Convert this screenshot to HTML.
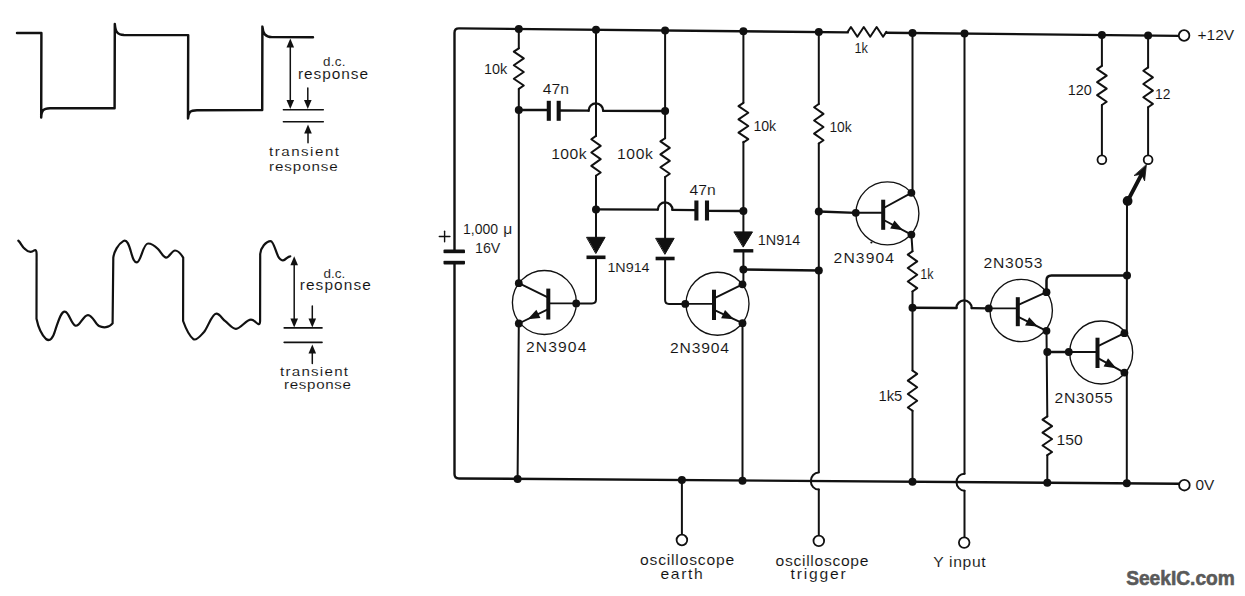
<!DOCTYPE html>
<html><head><meta charset="utf-8"><style>
html,body{margin:0;padding:0;background:#fff;}
svg{display:block;}
text{font-family:"Liberation Sans",sans-serif;}
</style></head><body>
<svg width="1245" height="596" viewBox="0 0 1245 596">
<rect width="1245" height="596" fill="#fff"/>
<g stroke="#111" fill="none" stroke-linecap="round" stroke-linejoin="round">
<path d="M17,33 L41.4,33 L41.2,117.5 C41.5,110.5 43,108.6 50,108.3 L114.6,108.2 L114.8,24 C115.5,31.5 117,34.8 124,35 L188.2,35.1 L188,118.5 C188.4,112 190,110.4 197,110.3 L262.2,110.1 L262.4,26.6 C263,33.5 265,36.9 272,37.1 L313,37.2" stroke-width="2.45" fill="none"/>
<line x1="290.3" y1="44" x2="290.3" y2="103" stroke-width="1.5"/>
<polygon points="290.3,38.5 294.1,47.5 286.5,47.5" fill="#111" stroke="none"/>
<polygon points="290.3,109 286.5,100 294.1,100" fill="#111" stroke="none"/>
<line x1="307.8" y1="88" x2="307.8" y2="103" stroke-width="1.5"/>
<polygon points="307.8,109 304,100 311.6,100" fill="#111" stroke="none"/>
<line x1="283.4" y1="109.8" x2="323.3" y2="109.8" stroke-width="1.6"/>
<line x1="283.4" y1="121.8" x2="323.3" y2="121.8" stroke-width="1.6"/>
<polygon points="308,124.5 311.8,133.5 304.2,133.5" fill="#111" stroke="none"/>
<line x1="308" y1="131" x2="308" y2="142.8" stroke-width="1.5"/>
<text transform="translate(323,66.4) scale(1.12,1)" font-size="12" font-weight="normal" fill="#111" stroke="#fff" stroke-width="0.08" text-anchor="start" textLength="20.09" lengthAdjust="spacing">d.c.</text>
<text transform="translate(297.9,78.8) scale(1.12,1)" font-size="13.8" font-weight="normal" fill="#111" stroke="#fff" stroke-width="0.08" text-anchor="start" textLength="62.68" lengthAdjust="spacing">response</text>
<text transform="translate(269,156.4) scale(1.12,1)" font-size="13.5" font-weight="normal" fill="#111" stroke="#fff" stroke-width="0.08" text-anchor="start" textLength="62.5" lengthAdjust="spacing">transient</text>
<text transform="translate(269,170.7) scale(1.12,1)" font-size="13.5" font-weight="normal" fill="#111" stroke="#fff" stroke-width="0.08" text-anchor="start" textLength="61.34" lengthAdjust="spacing">response</text>
<path d="M18.3,240.7 C21,243 22,247 25,249 C28,252 31,253 34,250.5 C36,249.5 36.6,251 36.6,254 L36.5,318.7 C38,326 42,335 46,339 C50,342 53,338 55,331 C58,322 61,311 65,311.6 C69,312 71,324 75.5,325.7 C80,327 83,315 88,315.1 C93,315.3 95,324 99,326 C103,328 109,328 112.6,323.4 L113.3,257.6 C114,252 118,244 123.3,241.1 C127,239 129,245 131,252 C133,259 134,262.5 137,262.3 C141,262 143,243.5 148,243.5 C152,243.5 155,246 158,249 C161,252 163,257 166,257.6 C169,258 172,250.5 175,250.5 C178,250.5 181,254 183.2,257.6 L183.1,321 C186,329 189,336 193.6,339.3 C197,341 201,335 204.2,331.8 C208,327 212,313.7 216.3,313.7 C220,313.7 222,319 225.3,321.2 C229,324 232,329 236,328.8 C241,328.5 246,319.7 251,319.7 C254,319.7 256,323 258.5,324.2 C259.5,324.5 260,323 260.1,321 L260.2,254 C260.5,248 266,241.1 270.6,241.1 C274,241.1 276,254 279,257.8 C281,260.5 283,261 285,259.5 C287,258 288.5,256.3 290.3,256.3" stroke-width="2.2" fill="none"/>
<line x1="294.2" y1="262" x2="294.2" y2="321" stroke-width="1.5"/>
<polygon points="294.2,256.3 298,265.3 290.4,265.3" fill="#111" stroke="none"/>
<polygon points="294.2,327.5 290.4,318.5 298,318.5" fill="#111" stroke="none"/>
<line x1="312.3" y1="306" x2="312.3" y2="321" stroke-width="1.5"/>
<polygon points="312.3,327.5 308.5,318.5 316.1,318.5" fill="#111" stroke="none"/>
<line x1="284.2" y1="327.9" x2="322" y2="327.9" stroke-width="1.6"/>
<line x1="284.2" y1="342.4" x2="322" y2="342.4" stroke-width="1.6"/>
<polygon points="312.3,344.5 316.1,353.5 308.5,353.5" fill="#111" stroke="none"/>
<line x1="312.3" y1="350" x2="312.3" y2="363.5" stroke-width="1.5"/>
<text transform="translate(323.4,278.2) scale(1.12,1)" font-size="12" font-weight="normal" fill="#111" stroke="#fff" stroke-width="0.08" text-anchor="start" textLength="19.46" lengthAdjust="spacing">d.c.</text>
<text transform="translate(299.7,290.3) scale(1.12,1)" font-size="13.8" font-weight="normal" fill="#111" stroke="#fff" stroke-width="0.08" text-anchor="start" textLength="63.48" lengthAdjust="spacing">response</text>
<text transform="translate(280,376) scale(1.12,1)" font-size="13.5" font-weight="normal" fill="#111" stroke="#fff" stroke-width="0.08" text-anchor="start" textLength="60.71" lengthAdjust="spacing">transient</text>
<text transform="translate(284,389) scale(1.12,1)" font-size="13.5" font-weight="normal" fill="#111" stroke="#fff" stroke-width="0.08" text-anchor="start" textLength="59.82" lengthAdjust="spacing">response</text>
<path d="M454.5,250.5 L454.5,32.8 Q454.5,28.3 459,28.34 L847.7,32.38" stroke-width="2.4" fill="none"/>
<polyline points="847.7,31.9 850.92,27.05 857.35,36.75 863.78,27.05 870.22,36.75 876.65,27.05 883.08,36.75 886.3,31.9" stroke-width="2.0"/>
<text transform="translate(854.4,52.6) scale(0.91,1)" font-size="14" font-weight="normal" fill="#111" stroke="#fff" stroke-width="0.08" text-anchor="start">1k</text>
<line x1="886.3" y1="32.79" x2="1178.8" y2="35.83" stroke-width="2.4"/>
<path d="M454.5,262.5 L454.5,473.9 Q454.5,478.4 459,478.44 L1179,483.69" stroke-width="2.4" fill="none"/>
<circle cx="1184.1" cy="35.5" r="5.3" fill="#fff" stroke-width="1.8"/>
<circle cx="1184.4" cy="485.2" r="5.3" fill="#fff" stroke-width="1.8"/>
<text transform="translate(1197.5,40.3) scale(1.11,1)" font-size="14" font-weight="normal" fill="#111" stroke="#fff" stroke-width="0.08" text-anchor="start">+12V</text>
<text transform="translate(1195.4,490) scale(1.1,1)" font-size="14" font-weight="normal" fill="#111" stroke="#fff" stroke-width="0.08" text-anchor="start">0V</text>
<rect x="443.5" y="249.4" width="21.5" height="4" rx="1" fill="#111" stroke="none"/>
<rect x="443.5" y="260.6" width="21.5" height="4" rx="1" fill="#111" stroke="none"/>
<rect x="443" y="253.4" width="22" height="7.2" fill="#fff" stroke="none"/>
<line x1="439.3" y1="236.5" x2="449.9" y2="236.5" stroke-width="1.4"/>
<line x1="444.6" y1="231.2" x2="444.6" y2="241.8" stroke-width="1.4"/>
<text transform="translate(463,234.4) scale(1,1)" font-size="14" font-weight="normal" fill="#111" stroke="#fff" stroke-width="0.08" text-anchor="start">1,000</text>
<text transform="translate(503.2,234.4) scale(1.12,1)" font-size="14" font-weight="normal" fill="#111" stroke="#fff" stroke-width="0.08" text-anchor="start" textLength="8.48" lengthAdjust="spacing">μ</text>
<text transform="translate(475,253) scale(1.02,1)" font-size="14" font-weight="normal" fill="#111" stroke="#fff" stroke-width="0.08" text-anchor="start">16V</text>
<circle cx="518.8" cy="28.96" r="4.0" fill="#111" stroke="none"/>
<line x1="518.8" y1="28.96" x2="518.8" y2="48.3" stroke-width="2.0"/>
<polyline points="518.8,48.3 513.8,51.68 523.8,58.45 513.8,65.22 523.8,71.98 513.8,78.75 523.8,85.52 518.8,88.9" stroke-width="2.0"/>
<line x1="518.8" y1="88.9" x2="518.8" y2="283.2" stroke-width="2.0"/>
<circle cx="518.8" cy="110" r="4.0" fill="#111" stroke="none"/>
<text transform="translate(484,73.9) scale(1.03,1)" font-size="14" font-weight="normal" fill="#111" stroke="#fff" stroke-width="0.08" text-anchor="start">10k</text>
<line x1="518.8" y1="323.5" x2="517.6" y2="478.86" stroke-width="2.0"/>
<circle cx="517.6" cy="479.06" r="4.0" fill="#111" stroke="none"/>
<line x1="518.8" y1="110" x2="548.7" y2="110" stroke-width="2.35"/>
<rect x="546.75" y="100.8" width="4.1" height="20" fill="#111" stroke="none"/>
<rect x="556.65" y="100.8" width="4.1" height="20" fill="#111" stroke="none"/>
<text transform="translate(542.8,93.6) scale(1.12,1)" font-size="14" font-weight="normal" fill="#111" stroke="#fff" stroke-width="0.08" text-anchor="start" textLength="23.48" lengthAdjust="spacing">47n</text>
<line x1="558.8" y1="110.5" x2="588.6" y2="110.7" stroke-width="2.35"/>
<path d="M588.6,110.7 A7.3,7.3 0 0 1 603.2,110.8" stroke-width="2.3" fill="none"/>
<line x1="603.2" y1="110.8" x2="665.1" y2="111" stroke-width="2.35"/>
<circle cx="596" cy="29.77" r="4.0" fill="#111" stroke="none"/>
<line x1="596" y1="29.77" x2="596" y2="135.9" stroke-width="2.0"/>
<polyline points="596,135.9 591.3,139.22 600.7,145.88 591.3,152.53 600.7,159.18 591.3,165.83 600.7,172.48 596,175.8" stroke-width="2.0"/>
<line x1="596" y1="175.8" x2="596" y2="237" stroke-width="2.0"/>
<circle cx="596" cy="209.4" r="4.0" fill="#111" stroke="none"/>
<text transform="translate(551.2,159.4) scale(1.12,1)" font-size="14" font-weight="normal" fill="#111" stroke="#fff" stroke-width="0.08" text-anchor="start" textLength="31.52" lengthAdjust="spacing">100k</text>
<polygon points="586.9,237.3 605.1,237.3 596,253.2" fill="#111" stroke-width="1"/>
<rect x="586.5" y="255.5" width="19" height="3.6" fill="#111" stroke="none"/>
<text transform="translate(607.4,272) scale(1.06,1)" font-size="13.5" font-weight="normal" fill="#111" stroke="#fff" stroke-width="0.08" text-anchor="start">1N914</text>
<path d="M596,257 L596,299.5 Q596,303.4 592,303.4 L576.2,303.4" stroke-width="2.0" fill="none"/>
<circle cx="665.1" cy="30.49" r="4.0" fill="#111" stroke="none"/>
<line x1="665.1" y1="30.49" x2="665.1" y2="138.2" stroke-width="2.0"/>
<circle cx="665.1" cy="111" r="4.0" fill="#111" stroke="none"/>
<polyline points="665.1,138.2 660.4,141.43 669.8,147.9 660.4,154.37 669.8,160.83 660.4,167.3 669.8,173.77 665.1,177" stroke-width="2.0"/>
<line x1="665.1" y1="177" x2="665.1" y2="238" stroke-width="2.0"/>
<text transform="translate(617,159.4) scale(1.12,1)" font-size="14" font-weight="normal" fill="#111" stroke="#fff" stroke-width="0.08" text-anchor="start" textLength="31.96" lengthAdjust="spacing">100k</text>
<polygon points="656,238.3 674.2,238.3 665.1,254" fill="#111" stroke-width="1"/>
<rect x="655.6" y="256.7" width="19" height="3.6" fill="#111" stroke="none"/>
<path d="M665.1,258 L665.1,300 Q665.1,303.9 669,303.9 L685.3,303.9" stroke-width="2.0" fill="none"/>
<line x1="596" y1="209.4" x2="657.8" y2="209.6" stroke-width="2.35"/>
<path d="M657.8,209.6 A7.3,7.3 0 0 1 672.4,209.8" stroke-width="2.3" fill="none"/>
<line x1="672.4" y1="209.8" x2="696.4" y2="210.2" stroke-width="2.35"/>
<rect x="694.35" y="200.5" width="4.1" height="20" fill="#111" stroke="none"/>
<rect x="704.95" y="200.5" width="4.1" height="20" fill="#111" stroke="none"/>
<text transform="translate(689.4,194.6) scale(1.12,1)" font-size="14" font-weight="normal" fill="#111" stroke="#fff" stroke-width="0.08" text-anchor="start" textLength="23.48" lengthAdjust="spacing">47n</text>
<line x1="707" y1="210.8" x2="743.4" y2="211" stroke-width="2.35"/>
<circle cx="743.4" cy="31.3" r="4.0" fill="#111" stroke="none"/>
<line x1="743.4" y1="31.3" x2="743.4" y2="102.8" stroke-width="2.0"/>
<polyline points="743.4,102.8 738.5,106.11 748.3,112.72 738.5,119.34 748.3,125.96 738.5,132.57 748.3,139.19 743.4,142.5" stroke-width="2.0"/>
<text transform="translate(753.4,131) scale(1.01,1)" font-size="14" font-weight="normal" fill="#111" stroke="#fff" stroke-width="0.08" text-anchor="start">10k</text>
<line x1="743.4" y1="141.7" x2="743.4" y2="232" stroke-width="2.0"/>
<circle cx="743.4" cy="211" r="4.0" fill="#111" stroke="none"/>
<polygon points="734.3,231.9 752.5,231.9 743.4,246.8" fill="#111" stroke-width="1"/>
<rect x="733.5" y="249.1" width="19.8" height="3.4" fill="#111" stroke="none"/>
<text transform="translate(757.8,245.4) scale(1.03,1)" font-size="14" font-weight="normal" fill="#111" stroke="#fff" stroke-width="0.08" text-anchor="start">1N914</text>
<line x1="743.4" y1="250.8" x2="743.4" y2="284.3" stroke-width="2.0"/>
<circle cx="743.4" cy="269.5" r="4.0" fill="#111" stroke="none"/>
<line x1="743.4" y1="269.5" x2="818.8" y2="270.5" stroke-width="2.35"/>
<line x1="742.5" y1="323.2" x2="742.5" y2="480.51" stroke-width="2.0"/>
<circle cx="742.5" cy="480.71" r="4.0" fill="#111" stroke="none"/>
<circle cx="818.8" cy="32.08" r="4.0" fill="#111" stroke="none"/>
<line x1="818.8" y1="32.08" x2="818.8" y2="104" stroke-width="2.0"/>
<polyline points="818.8,104 814.1,107.29 823.5,113.88 814.1,120.46 823.5,127.04 814.1,133.62 823.5,140.21 818.8,143.5" stroke-width="2.0"/>
<text transform="translate(829.4,131.7) scale(0.99,1)" font-size="14" font-weight="normal" fill="#111" stroke="#fff" stroke-width="0.08" text-anchor="start">10k</text>
<line x1="818.8" y1="143.5" x2="818.8" y2="472.06" stroke-width="2.0"/>
<circle cx="818.8" cy="211.5" r="4.0" fill="#111" stroke="none"/>
<circle cx="818.8" cy="270.5" r="4.0" fill="#111" stroke="none"/>
<line x1="818.8" y1="211.5" x2="855.8" y2="212.8" stroke-width="2.35"/>
<path d="M818.8,472.56 A8,8.5 0 0 0 818.8,489.56" stroke-width="2.0" fill="none"/>
<line x1="818.8" y1="489.56" x2="818.8" y2="535.3" stroke-width="2.0"/>
<circle cx="818.8" cy="540.9" r="5.3" fill="#fff" stroke-width="1.8"/>
<text transform="translate(775.5,565.9) scale(1.12,1)" font-size="14" font-weight="normal" fill="#111" stroke="#fff" stroke-width="0.08" text-anchor="start" textLength="83.04" lengthAdjust="spacing">oscilloscope</text>
<text transform="translate(790.5,579.4) scale(1.12,1)" font-size="14" font-weight="normal" fill="#111" stroke="#fff" stroke-width="0.08" text-anchor="start" textLength="49.29" lengthAdjust="spacing">trigger</text>
<circle cx="681.9" cy="480.06" r="4.0" fill="#111" stroke="none"/>
<line x1="681.9" y1="480.06" x2="681.9" y2="534.4" stroke-width="2.0"/>
<circle cx="681.9" cy="540" r="5.3" fill="#fff" stroke-width="1.8"/>
<text transform="translate(640,564.8) scale(1.12,1)" font-size="14" font-weight="normal" fill="#111" stroke="#fff" stroke-width="0.08" text-anchor="start" textLength="84.11" lengthAdjust="spacing">oscilloscope</text>
<text transform="translate(660.4,578.9) scale(1.12,1)" font-size="14" font-weight="normal" fill="#111" stroke="#fff" stroke-width="0.08" text-anchor="start" textLength="37.86" lengthAdjust="spacing">earth</text>
<circle cx="912.5" cy="33.06" r="4.0" fill="#111" stroke="none"/>
<line x1="912.5" y1="33.06" x2="912.5" y2="192.8" stroke-width="2.0"/>
<line x1="911.4" y1="234.6" x2="912.5" y2="251.3" stroke-width="2.0"/>
<polyline points="912.5,251.3 907.8,254.65 917.2,261.35 907.8,268.05 917.2,274.75 907.8,281.45 917.2,288.15 912.5,291.5" stroke-width="2.0"/>
<text transform="translate(920.3,278.7) scale(0.89,1)" font-size="14" font-weight="normal" fill="#111" stroke="#fff" stroke-width="0.08" text-anchor="start">1k</text>
<line x1="912.5" y1="291.5" x2="912.5" y2="370.5" stroke-width="2.0"/>
<circle cx="912.5" cy="307.7" r="4.0" fill="#111" stroke="none"/>
<polyline points="912.5,370.5 917.2,373.86 907.8,380.57 917.2,387.29 907.8,394.01 917.2,400.73 907.8,407.44 912.5,410.8" stroke-width="2.0"/>
<text transform="translate(878.4,400.7) scale(1.06,1)" font-size="14" font-weight="normal" fill="#111" stroke="#fff" stroke-width="0.08" text-anchor="start">1k5</text>
<line x1="912.5" y1="410.8" x2="912.5" y2="481.75" stroke-width="2.0"/>
<circle cx="912.5" cy="481.75" r="4.0" fill="#111" stroke="none"/>
<line x1="912.5" y1="307.7" x2="956.5" y2="308" stroke-width="2.35"/>
<path d="M956.5,308 A7.6,7.6 0 0 1 971.7,308.1" stroke-width="2.3" fill="none"/>
<line x1="971.7" y1="308.1" x2="988.8" y2="308.3" stroke-width="2.35"/>
<circle cx="964.5" cy="33.6" r="4.0" fill="#111" stroke="none"/>
<line x1="964.5" y1="33.6" x2="964.5" y2="473.63" stroke-width="2.0"/>
<path d="M964.5,473.63 A8,8.5 0 0 0 964.5,490.63" stroke-width="2.0" fill="none"/>
<line x1="964.5" y1="490.63" x2="964.5" y2="536.7" stroke-width="2.0"/>
<circle cx="964.2" cy="542.6" r="5.3" fill="#fff" stroke-width="1.8"/>
<text transform="translate(933.2,566.8) scale(1.12,1)" font-size="14" font-weight="normal" fill="#111" stroke="#fff" stroke-width="0.08" text-anchor="start" textLength="46.87" lengthAdjust="spacing">Y input</text>
<circle cx="544.4" cy="302.5" r="32" fill="none" stroke-width="1.35"/>
<rect x="546.3" y="288.6" width="4" height="30.9" fill="#111" stroke="none"/>
<line x1="576.2" y1="303.4" x2="548.3" y2="303.4" stroke-width="1.9"/>
<circle cx="576.2" cy="303.4" r="3.9" fill="#111" stroke="none"/>
<line x1="548.3" y1="297.55" x2="518.8" y2="283.2" stroke-width="1.9"/>
<circle cx="518.8" cy="283.2" r="3.9" fill="#111" stroke="none"/>
<line x1="548.3" y1="309.05" x2="518.8" y2="323.5" stroke-width="1.9"/>
<circle cx="518.8" cy="323.5" r="3.9" fill="#111" stroke="none"/>
<polygon points="527.65,319.17 536.4,309.76 540.45,318.02" fill="#111" stroke="none"/>
<text transform="translate(526,351.7) scale(1.12,1)" font-size="14" font-weight="normal" fill="#111" stroke="#fff" stroke-width="0.08" text-anchor="start" textLength="53.93" lengthAdjust="spacing">2N3904</text>
<circle cx="717.5" cy="303.7" r="31.5" fill="none" stroke-width="1.35"/>
<rect x="712" y="289.7" width="4" height="30.3" fill="#111" stroke="none"/>
<line x1="685.3" y1="303.9" x2="714" y2="303.9" stroke-width="1.9"/>
<circle cx="685.3" cy="303.9" r="3.9" fill="#111" stroke="none"/>
<line x1="714" y1="298.35" x2="742.5" y2="284.3" stroke-width="1.9"/>
<circle cx="742.5" cy="284.3" r="3.9" fill="#111" stroke="none"/>
<line x1="714" y1="309.85" x2="742.5" y2="323.2" stroke-width="1.9"/>
<circle cx="742.5" cy="323.2" r="3.9" fill="#111" stroke="none"/>
<polygon points="733.95,319.19 721.13,318.27 725.03,309.94" fill="#111" stroke="none"/>
<text transform="translate(670,352.8) scale(1.12,1)" font-size="14" font-weight="normal" fill="#111" stroke="#fff" stroke-width="0.08" text-anchor="start" textLength="52.68" lengthAdjust="spacing">2N3904</text>
<circle cx="887.4" cy="213.4" r="31.5" fill="none" stroke-width="1.35"/>
<rect x="881.2" y="199.7" width="4" height="30.1" fill="#111" stroke="none"/>
<line x1="855.8" y1="212.8" x2="883.2" y2="212.8" stroke-width="1.9"/>
<circle cx="855.8" cy="212.8" r="3.9" fill="#111" stroke="none"/>
<line x1="883.2" y1="208.25" x2="911.4" y2="192.8" stroke-width="1.9"/>
<circle cx="911.4" cy="192.8" r="3.9" fill="#111" stroke="none"/>
<line x1="883.2" y1="219.75" x2="911.4" y2="234.6" stroke-width="1.9"/>
<circle cx="911.4" cy="234.6" r="3.9" fill="#111" stroke="none"/>
<polygon points="902.94,230.14 890.18,228.62 894.47,220.48" fill="#111" stroke="none"/>
<text transform="translate(833.6,262.8) scale(1.12,1)" font-size="14" font-weight="normal" fill="#111" stroke="#fff" stroke-width="0.08" text-anchor="start" textLength="53.93" lengthAdjust="spacing">2N3904</text>
<circle cx="1021.2" cy="310.5" r="31.2" fill="none" stroke-width="1.35"/>
<rect x="1015.8" y="297.2" width="4" height="29" fill="#111" stroke="none"/>
<line x1="988.8" y1="308.4" x2="1017.8" y2="308.4" stroke-width="1.9"/>
<circle cx="988.8" cy="308.4" r="3.9" fill="#111" stroke="none"/>
<line x1="1017.8" y1="305.2" x2="1046.5" y2="292.2" stroke-width="1.9"/>
<circle cx="1046.5" cy="292.2" r="3.9" fill="#111" stroke="none"/>
<line x1="1017.8" y1="316.7" x2="1046.5" y2="330.8" stroke-width="1.9"/>
<circle cx="1046.5" cy="330.8" r="3.9" fill="#111" stroke="none"/>
<polygon points="1037.89,326.57 1025.09,325.41 1029.15,317.15" fill="#111" stroke="none"/>
<text transform="translate(983.4,267.8) scale(1.12,1)" font-size="14" font-weight="normal" fill="#111" stroke="#fff" stroke-width="0.08" text-anchor="start" textLength="52.77" lengthAdjust="spacing">2N3053</text>
<circle cx="1101.2" cy="352.5" r="31.5" fill="none" stroke-width="1.35"/>
<rect x="1095.5" y="337.7" width="4" height="30.3" fill="#111" stroke="none"/>
<line x1="1068.8" y1="352" x2="1097.5" y2="352" stroke-width="1.9"/>
<circle cx="1068.8" cy="352" r="3.9" fill="#111" stroke="none"/>
<line x1="1097.5" y1="346.35" x2="1124.4" y2="333.2" stroke-width="1.9"/>
<circle cx="1124.4" cy="333.2" r="3.9" fill="#111" stroke="none"/>
<line x1="1097.5" y1="357.85" x2="1124.4" y2="372.6" stroke-width="1.9"/>
<circle cx="1124.4" cy="372.6" r="3.9" fill="#111" stroke="none"/>
<polygon points="1116.33,368.18 1103.6,366.44 1108.02,358.37" fill="#111" stroke="none"/>
<text transform="translate(1054.6,403.2) scale(1.12,1)" font-size="14" font-weight="normal" fill="#111" stroke="#fff" stroke-width="0.08" text-anchor="start" textLength="51.96" lengthAdjust="spacing">2N3055</text>
<path d="M1046.5,292.2 L1046.5,280.5 Q1046.5,275.5 1051.5,275.5 L1127,275.5" stroke-width="2.5" fill="none"/>
<circle cx="1127" cy="275.5" r="4.0" fill="#111" stroke="none"/>
<circle cx="871.4" cy="242.5" r="1.1" fill="#111" stroke="none"/>
<line x1="1046.5" y1="330.8" x2="1047.3" y2="416.4" stroke-width="2.0"/>
<circle cx="1047.3" cy="352" r="4.0" fill="#111" stroke="none"/>
<line x1="1047.3" y1="352" x2="1068.8" y2="352" stroke-width="2.35"/>
<polyline points="1047.3,416.4 1042.5,419.63 1052.1,426.1 1042.5,432.57 1052.1,439.03 1042.5,445.5 1052.1,451.97 1047.3,455.2" stroke-width="2.0"/>
<text transform="translate(1056.4,444.6) scale(1.12,1)" font-size="14" font-weight="normal" fill="#111" stroke="#fff" stroke-width="0.08" text-anchor="start" textLength="23.48" lengthAdjust="spacing">150</text>
<line x1="1047.3" y1="455.2" x2="1047.3" y2="482.73" stroke-width="2.0"/>
<circle cx="1047.3" cy="482.73" r="4.0" fill="#111" stroke="none"/>
<line x1="1127" y1="201" x2="1126.8" y2="333.2" stroke-width="2.0"/>
<line x1="1124.4" y1="333.2" x2="1126.8" y2="333.2" stroke-width="1.5"/>
<line x1="1126.8" y1="372.6" x2="1126.8" y2="483.31" stroke-width="2.0"/>
<circle cx="1126.8" cy="483.31" r="4.0" fill="#111" stroke="none"/>
<line x1="1127.6" y1="201" x2="1141.5" y2="174.5" stroke-width="3.8"/>
<polygon points="1146.4,164.8 1144.6,180.9 1141.6,174.2 1134.4,175.5" fill="#111" stroke-width="0.8"/>
<circle cx="1127.6" cy="201" r="4.9" fill="#111" stroke="none"/>
<circle cx="1101.9" cy="35.03" r="4.0" fill="#111" stroke="none"/>
<line x1="1101.9" y1="35.03" x2="1101.9" y2="65.8" stroke-width="2.0"/>
<polyline points="1101.9,65.8 1097.1,69.07 1106.7,75.6 1097.1,82.13 1106.7,88.67 1097.1,95.2 1106.7,101.73 1101.9,105" stroke-width="2.0"/>
<line x1="1101.9" y1="105" x2="1101.9" y2="155.6" stroke-width="2.0"/>
<circle cx="1101.9" cy="159.8" r="4.4" fill="#fff" stroke-width="1.8"/>
<text transform="translate(1067.7,94.5) scale(1.03,1)" font-size="14" font-weight="normal" fill="#111" stroke="#fff" stroke-width="0.08" text-anchor="start">120</text>
<circle cx="1148.1" cy="35.51" r="4.0" fill="#111" stroke="none"/>
<line x1="1148.1" y1="35.51" x2="1148.1" y2="67.4" stroke-width="2.0"/>
<polyline points="1148.1,67.4 1143.3,70.72 1152.9,77.35 1143.3,83.98 1152.9,90.62 1143.3,97.25 1152.9,103.88 1148.1,107.2" stroke-width="2.0"/>
<line x1="1148.1" y1="107.2" x2="1148.1" y2="155.6" stroke-width="2.0"/>
<circle cx="1148.1" cy="159.8" r="4.4" fill="#fff" stroke-width="1.8"/>
<text transform="translate(1155,98.6) scale(0.99,1)" font-size="14" font-weight="normal" fill="#111" stroke="#fff" stroke-width="0.08" text-anchor="start">12</text>
<text x="1126.2" y="584.6" font-size="20.5" font-weight="bold" fill="#5a5a5a" stroke="#5a5a5a" stroke-width="0.6" textLength="108.6" lengthAdjust="spacingAndGlyphs">SeekIC.com</text>
</g>
</svg>
</body></html>
